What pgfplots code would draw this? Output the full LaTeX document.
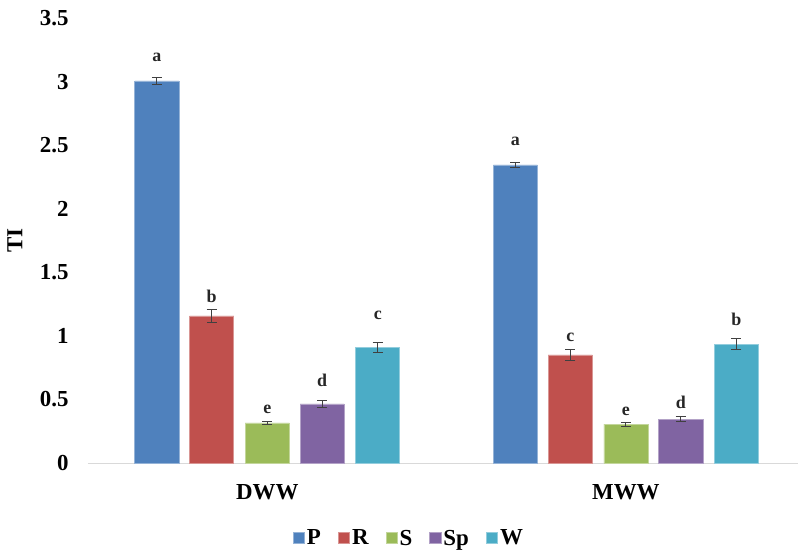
\documentclass[border=0pt]{standalone}
\usepackage{pgfplots}
\pgfplotsset{compat=1.18}
\usepackage{fontspec}
\setmainfont{Liberation Serif}
\definecolor{cP}{HTML}{4F81BD}
\definecolor{cR}{HTML}{C0504D}
\definecolor{cS}{HTML}{9BBB59}
\definecolor{cSp}{HTML}{8064A2}
\definecolor{cW}{HTML}{4BACC6}
\definecolor{axgray}{HTML}{D9D9D9}
\definecolor{errgray}{HTML}{404040}
\pgfplotsset{
  mybar/.style={ybar, bar width=0.123, bar shift=0pt, fill=#1, draw=#1!60!white, line width=0.6pt,
    error bars/y dir=both, error bars/y explicit,
    error bars/error bar style={errgray, line width=0.8pt},
    error bars/error mark options={errgray, line width=0.8pt, mark size=5bp, rotate=90}},
}
\begin{document}
\begin{tikzpicture}
\begin{axis}[
  scale only axis,
  width=710bp, height=445bp,
  xmin=-0.5, xmax=1.48,
  ymin=0, ymax=3.5,
  ytick={0,0.5,...,3.5},
  xtick={0,1}, xticklabels={DWW,MWW},
  /pgf/number format/assume math mode=true,
  yticklabel style={/pgf/number format/fixed, xshift=-16bp},
  xticklabel style={yshift=-18bp},
  tick label style={font=\bfseries\fontsize{23}{26}\selectfont},
  major tick length=0pt,
  axis x line*=bottom,
  axis y line*=left,
  x axis line style={draw=axgray, line width=1pt, -},
  y axis line style={draw=none},
  ylabel={TI},
  ylabel style={font=\bfseries\fontsize{23}{26}\selectfont, at={(axis description cs:-0.103,0.5)}, anchor=center},
  legend style={at={(0.452,-0.169)}, anchor=center, legend columns=-1, draw=none,
    font=\bfseries\fontsize{23}{26}\selectfont,
    /tikz/every even column/.append style={column sep=15bp}},
  legend image code/.code={\fill[#1] (0bp,-5.5bp) rectangle (11.5bp,6bp);},
]
\addplot[mybar=cP]
  coordinates {(-0.308,3.005) +- (0,0.03) (0.692,2.345) +- (0,0.02)};
\addlegendentry{P}
\addplot[mybar=cR]
  coordinates {(-0.155,1.157) +- (0,0.05) (0.845,0.85) +- (0,0.04)};
\addlegendentry{R}
\addplot[mybar=cS]
  coordinates {(0,0.315) +- (0,0.015) (1,0.305) +- (0,0.015)};
\addlegendentry{S}
\addplot[mybar=cSp]
  coordinates {(0.153,0.465) +- (0,0.025) (1.153,0.345) +- (0,0.02)};
\addlegendentry{Sp}
\addplot[mybar=cW]
  coordinates {(0.308,0.91) +- (0,0.04) (1.308,0.935) +- (0,0.045)};
\addlegendentry{W}
\addplot[only marks, mark=none, forget plot, nodes near coords, point meta=explicit symbolic,
  nodes near coords style={anchor=center, font=\bfseries\fontsize{18}{20}\selectfont, color=black!85}]
  coordinates {
  (-0.308,3.19)[a] (-0.155,1.31)[b] (0,0.425)[e] (0.153,0.65)[d] (0.308,1.165)[c]
  (0.692,2.53)[a] (0.845,0.99)[c] (1,0.41)[e] (1.153,0.48)[d] (1.308,1.13)[b]
  };
\end{axis}
\pgfresetboundingbox
\path (current axis.south west) ++(-88bp,-88bp) rectangle ++(798bp,551bp);
\end{tikzpicture}
\end{document}
